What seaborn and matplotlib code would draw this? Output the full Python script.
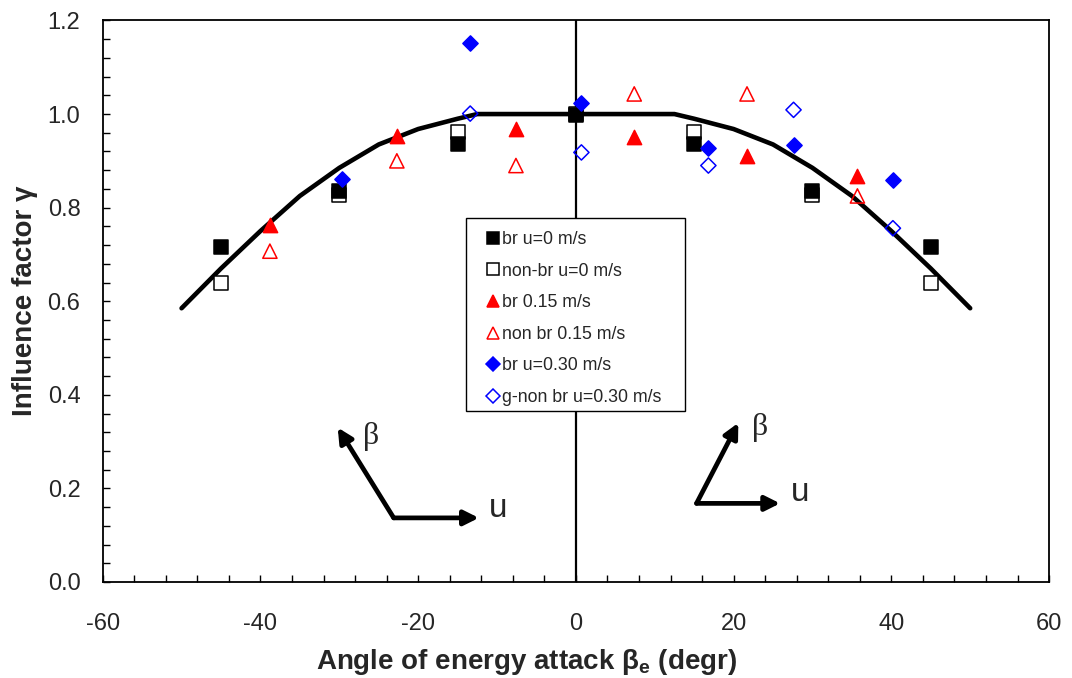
import numpy as np
import pandas as pd
import matplotlib
matplotlib.use("Agg")
import matplotlib.pyplot as plt
from matplotlib.ticker import MultipleLocator, FormatStrFormatter
from matplotlib.patches import Rectangle
import seaborn as sns

# ── data ─────────────────────────────────────
ang_u0 = [-45, -30, -15, 0, 15, 30, 45]
br_u0 = [0.716, 0.835, 0.937, 0.998, 0.937, 0.835, 0.716]
nonbr_u0 = [0.638, 0.828, 0.961, 1.0, 0.961, 0.828, 0.638]

ang_u15 = [-38.8, -22.7, -7.6, 7.4, 21.7, 35.7]
br_u15 = [0.763, 0.953, 0.968, 0.950, 0.910, 0.868]
nonbr_u15 = [0.707, 0.900, 0.890, 1.043, 1.043, 0.825]

ang_br_u30 = [-29.6, -13.4, 0.7, 16.8, 27.6, 40.2]
br_u30 = [0.862, 1.151, 1.023, 0.928, 0.934, 0.859]
ang_nonbr_u30 = [-13.4, 0.7, 16.8, 27.6, 40.2]
nonbr_u30 = [1.001, 0.918, 0.890, 1.009, 0.756]

curve_x = [-50, -45, -40, -35, -30, -25, -20, -15, -12.5, 0,
           12.5, 15, 20, 25, 30, 35, 40, 45, 50]
curve_y = [0.585, 0.670, 0.750, 0.825, 0.885, 0.935, 0.968, 0.990, 1.0, 1.0,
           1.0, 0.990, 0.968, 0.935, 0.885, 0.825, 0.750, 0.670, 0.585]

labels = ["br u=0 m/s", "non-br u=0 m/s", "br 0.15 m/s",
          "non br 0.15 m/s", "br u=0.30 m/s", "g-non br u=0.30 m/s"]

# ── style ────────────────────────────────────
sns.set_style("white")
plt.rcParams["font.family"] = ["Liberation Sans", "DejaVu Sans"]
plt.rcParams["axes.unicode_minus"] = False
plt.rcParams["mathtext.fontset"] = "custom"
plt.rcParams["mathtext.rm"] = "Liberation Sans"
plt.rcParams["mathtext.bf"] = "Liberation Sans:bold"

fig = plt.figure(figsize=(10.72, 6.78), dpi=100)
ax = fig.add_axes([0.0958, 0.1416, 0.8828, 0.8282])

# fitted curve and zero line
sns.lineplot(x=curve_x, y=curve_y, ax=ax, color="black", lw=3.3,
             sort=False, zorder=2)
ax.axvline(0, color="black", lw=1.6, zorder=1)

# (x, y, marker, face, edge, size, zorder)
series = [
    (ang_u0, br_u0, "s", "black", "black", 95, 5),
    (ang_u0, nonbr_u0, "s", "white", "black", 95, 4),
    (ang_u15, br_u15, "^", "red", "red", 105, 6),
    (ang_u15, nonbr_u15, "^", "none", "red", 105, 6),
    (ang_br_u30, br_u30, "D", "blue", "blue", 60, 7),
    (ang_nonbr_u30, nonbr_u30, "D", "none", "blue", 60, 7),
]
handles = []
for xs, ys, mk, fc, ec, s, z in series:
    df = pd.DataFrame({"x": xs, "y": ys})
    sns.scatterplot(data=df, x="x", y="y", ax=ax, marker=mk, s=s,
                    facecolor=fc, edgecolor=ec, linewidth=1.1,
                    zorder=z, legend=False)
    handles.append(plt.Line2D([], [], ls="none", marker=mk,
                              markersize=8.5 if mk != "D" else 6.8,
                              markerfacecolor=fc, markeredgecolor=ec,
                              markeredgewidth=1.1))

# legend box (Excel style, square frame)
ax.add_patch(Rectangle((0.3839, 0.3043), 0.2314, 0.344, transform=ax.transAxes,
                       facecolor="white", edgecolor="black", lw=1.0, zorder=9))
leg = ax.legend(handles, labels,
                loc="upper left", bbox_to_anchor=(0.405, 0.625), frameon=False,
                fontsize=12.8, handlelength=0.8, handletextpad=0.1,
                borderpad=0, labelspacing=0.82, borderaxespad=0)
leg.set_zorder(10)

# direction sketches
arrow = dict(arrowstyle="-|>", lw=3.4, color="black", mutation_scale=22,
             shrinkA=0, shrinkB=0)
ax.annotate("", xy=(-12.3, 0.137), xytext=(-23.1, 0.137), arrowprops=arrow)
ax.annotate("", xy=(-30.2, 0.33), xytext=(-23.1, 0.137), arrowprops=arrow)
ax.annotate("", xy=(25.9, 0.168), xytext=(15.3, 0.168), arrowprops=arrow)
ax.annotate("", xy=(20.6, 0.34), xytext=(15.3, 0.168), arrowprops=arrow)
ax.text(-25.9, 0.31, "β", family="Liberation Serif", fontsize=23,
        ha="center", va="center")
ax.text(23.3, 0.33, "β", family="Liberation Serif", fontsize=23,
        ha="center", va="center")
ax.text(-9.9, 0.158, "u", fontsize=24, ha="center", va="center")
ax.text(28.4, 0.192, "u", fontsize=24, ha="center", va="center")

# axes
ax.set_xlim(-60, 60)
ax.set_ylim(0, 1.2)
ax.xaxis.set_major_locator(MultipleLocator(20))
ax.xaxis.set_minor_locator(MultipleLocator(4))
ax.yaxis.set_major_locator(MultipleLocator(0.2))
ax.yaxis.set_minor_locator(MultipleLocator(0.04))
ax.yaxis.set_major_formatter(FormatStrFormatter("%.1f"))
ax.tick_params(which="both", direction="in", length=5, width=1, color="black",
               labelsize=17, top=False, right=False, bottom=True, left=True)
ax.tick_params(axis="x", which="major", pad=22)
ax.tick_params(axis="y", which="major", pad=16)
for sp in ax.spines.values():
    sp.set_visible(True)
    sp.set_color("black")
    sp.set_linewidth(1.3)

ax.set_xlabel(r"Angle of energy attack β$_\mathbf{e}$ (degr)", fontsize=20,
              fontweight="bold")
ax.set_ylabel("Influence factor γ", fontsize=20, fontweight="bold")
ax.xaxis.set_label_coords(0.4484, -0.116)
ax.yaxis.set_label_coords(-0.068, 0.5)

fig.savefig("out.png", dpi=100)
plt.close(fig)
